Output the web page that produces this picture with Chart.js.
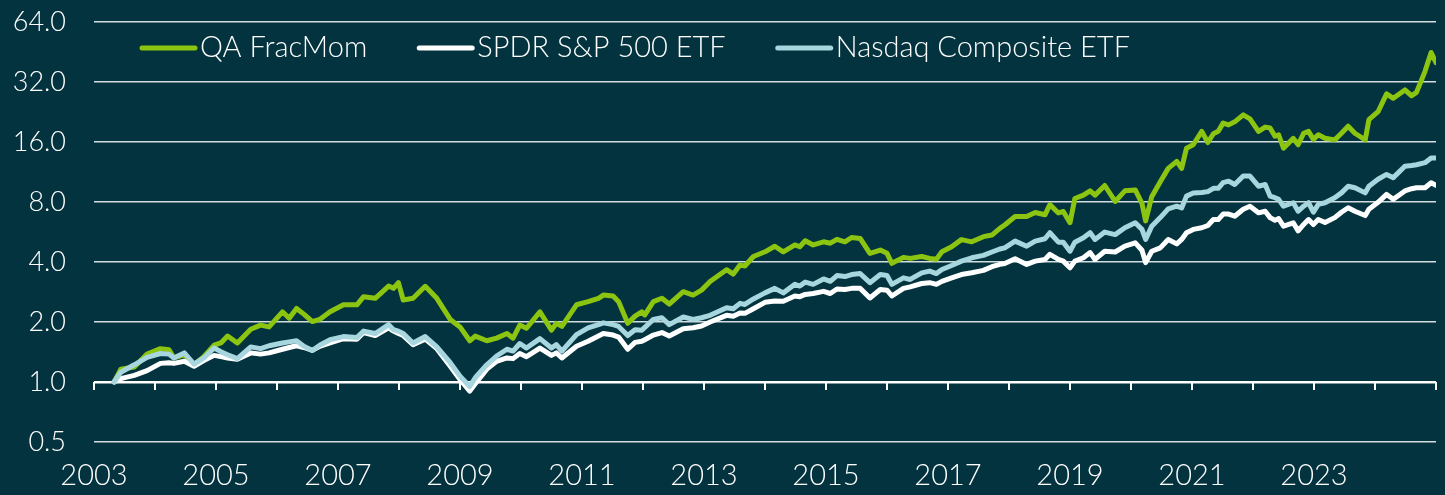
<!DOCTYPE html>
<html lang="en">
<head>
    <meta charset="UTF-8">
    <title>QA FracMom vs ETFs</title>
    <script src="https://cdn.jsdelivr.net/npm/chart.js"></script>
    <style>
        body { margin: 0; background: #03333e; }
        #wrap { width: 1445px; height: 495px; position: relative; }
    </style>
</head>
<body>
<div id="wrap"><canvas id="growthChart"></canvas></div>
<script>
    // dates as decimal years, values = growth of 1 (log scale)
    const dates = [
        2003.33, 2003.44, 2003.66, 2003.87, 2004.09, 2004.23, 2004.31, 2004.48, 2004.64, 2004.80,
        2004.97, 2005.08, 2005.19, 2005.35, 2005.57, 2005.73, 2005.87, 2006.09, 2006.20, 2006.32,
        2006.44, 2006.58, 2006.70, 2006.87, 2007.09, 2007.31, 2007.42, 2007.61, 2007.83, 2007.91,
        2007.99, 2008.07, 2008.23, 2008.43, 2008.62, 2008.84, 2009.00, 2009.16, 2009.25, 2009.44,
        2009.60, 2009.77, 2009.87, 2009.98, 2010.09, 2010.31, 2010.50, 2010.58, 2010.67, 2010.91,
        2011.10, 2011.27, 2011.35, 2011.51, 2011.60, 2011.75, 2011.87, 2011.98, 2012.03, 2012.17,
        2012.31, 2012.43, 2012.66, 2012.82, 2012.96, 2013.10, 2013.37, 2013.48, 2013.59, 2013.67,
        2013.81, 2014.00, 2014.16, 2014.30, 2014.49, 2014.57, 2014.66, 2014.79, 2014.96, 2015.07,
        2015.18, 2015.31, 2015.42, 2015.56, 2015.72, 2015.89, 2016.00, 2016.08, 2016.27, 2016.38,
        2016.57, 2016.70, 2016.81, 2016.90, 2017.06, 2017.22, 2017.39, 2017.58, 2017.72, 2017.85,
        2017.93, 2018.10, 2018.29, 2018.43, 2018.59, 2018.67, 2018.81, 2018.89, 2019.00, 2019.08,
        2019.22, 2019.33, 2019.41, 2019.57, 2019.74, 2019.90, 2020.07, 2020.18, 2020.24, 2020.34,
        2020.48, 2020.61, 2020.75, 2020.83, 2020.91, 2021.02, 2021.16, 2021.26, 2021.35, 2021.43,
        2021.51, 2021.60, 2021.70, 2021.84, 2021.95, 2022.09, 2022.20, 2022.28, 2022.36, 2022.42,
        2022.50, 2022.66, 2022.74, 2022.83, 2022.91, 2022.99, 2023.07, 2023.18, 2023.34, 2023.45,
        2023.56, 2023.67, 2023.84, 2023.90, 2024.05, 2024.19, 2024.30, 2024.49, 2024.60, 2024.68,
        2024.82, 2024.92, 2025.00
    ];

    const qaFracMom = [
        1.00, 1.16, 1.19, 1.38, 1.47, 1.45, 1.32, 1.37, 1.22, 1.34,
        1.53, 1.57, 1.70, 1.57, 1.84, 1.93, 1.89, 2.25, 2.09, 2.34,
        2.19, 2.01, 2.06, 2.25, 2.44, 2.44, 2.68, 2.63, 3.03, 2.95,
        3.15, 2.58, 2.63, 3.02, 2.63, 2.06, 1.89, 1.61, 1.70, 1.61,
        1.66, 1.75, 1.66, 1.93, 1.86, 2.25, 1.82, 1.97, 1.90, 2.44,
        2.53, 2.63, 2.73, 2.70, 2.53, 1.97, 2.14, 2.25, 2.17, 2.53,
        2.63, 2.46, 2.84, 2.73, 2.89, 3.19, 3.66, 3.48, 3.86, 3.82,
        4.26, 4.50, 4.80, 4.50, 4.87, 4.77, 5.11, 4.87, 5.05, 4.97,
        5.20, 5.05, 5.31, 5.25, 4.42, 4.59, 4.42, 3.94, 4.22, 4.17,
        4.26, 4.17, 4.13, 4.50, 4.77, 5.18, 5.05, 5.36, 5.46, 5.90,
        6.13, 6.77, 6.77, 7.09, 6.90, 7.76, 7.05, 7.17, 6.30, 8.33,
        8.66, 9.10, 8.66, 9.68, 8.05, 9.10, 9.20, 7.87, 6.43, 8.50,
        10.1, 11.8, 12.8, 11.8, 14.9, 15.5, 18.1, 15.9, 17.6, 18.1,
        19.9, 19.5, 20.2, 21.9, 20.9, 18.1, 19.0, 18.8, 17.1, 17.4,
        14.9, 16.7, 15.5, 17.7, 18.1, 16.5, 17.4, 16.7, 16.4, 17.7,
        19.2, 17.7, 16.4, 20.7, 22.7, 27.9, 26.5, 29.2, 27.3, 28.4,
        36.2, 45.0, 40.0
    ];

    const spdrSp500 = [
        1.00, 1.04, 1.08, 1.14, 1.24, 1.25, 1.24, 1.27, 1.20, 1.28,
        1.36, 1.34, 1.32, 1.30, 1.40, 1.38, 1.40, 1.46, 1.49, 1.52,
        1.49, 1.44, 1.51, 1.57, 1.65, 1.64, 1.77, 1.71, 1.87, 1.80,
        1.75, 1.71, 1.54, 1.64, 1.47, 1.20, 1.03, 0.90, 0.98, 1.16,
        1.27, 1.32, 1.31, 1.39, 1.34, 1.48, 1.36, 1.40, 1.32, 1.51,
        1.60, 1.70, 1.75, 1.72, 1.68, 1.46, 1.58, 1.60, 1.63, 1.72,
        1.77, 1.70, 1.85, 1.87, 1.91, 2.00, 2.16, 2.14, 2.22, 2.21,
        2.33, 2.51, 2.55, 2.54, 2.70, 2.68, 2.75, 2.78, 2.85, 2.78,
        2.93, 2.91, 2.95, 2.95, 2.64, 2.91, 2.89, 2.70, 2.95, 3.00,
        3.12, 3.15, 3.09, 3.20, 3.33, 3.46, 3.53, 3.63, 3.79, 3.89,
        3.93, 4.15, 3.89, 4.04, 4.12, 4.37, 4.12, 4.04, 3.74, 4.04,
        4.20, 4.46, 4.12, 4.53, 4.49, 4.80, 4.99, 4.58, 3.97, 4.53,
        4.71, 5.19, 4.93, 5.19, 5.61, 5.83, 5.94, 6.10, 6.53, 6.53,
        6.96, 6.96, 6.79, 7.36, 7.62, 7.06, 7.19, 6.68, 6.48, 6.60,
        6.05, 6.29, 5.73, 6.17, 6.53, 6.17, 6.53, 6.31, 6.68, 7.11,
        7.49, 7.19, 6.84, 7.36, 7.97, 8.73, 8.25, 9.09, 9.33, 9.43,
        9.43, 9.99, 9.70
    ];

    const nasdaqComposite = [
        1.00, 1.12, 1.22, 1.33, 1.39, 1.38, 1.32, 1.40, 1.23, 1.32,
        1.48, 1.42, 1.37, 1.31, 1.50, 1.47, 1.52, 1.57, 1.59, 1.61,
        1.51, 1.44, 1.53, 1.63, 1.69, 1.67, 1.80, 1.75, 1.94, 1.83,
        1.80, 1.75, 1.57, 1.69, 1.50, 1.25, 1.07, 0.95, 1.05, 1.22,
        1.35, 1.46, 1.43, 1.56, 1.48, 1.65, 1.48, 1.54, 1.43, 1.73,
        1.87, 1.94, 1.98, 1.94, 1.90, 1.71, 1.83, 1.82, 1.88, 2.06,
        2.10, 1.94, 2.12, 2.06, 2.10, 2.16, 2.36, 2.33, 2.48, 2.45,
        2.61, 2.80, 2.95, 2.80, 3.09, 3.03, 3.17, 3.09, 3.29, 3.20,
        3.42, 3.38, 3.46, 3.50, 3.15, 3.46, 3.42, 3.09, 3.33, 3.27,
        3.53, 3.60, 3.50, 3.67, 3.84, 4.04, 4.20, 4.32, 4.49, 4.65,
        4.71, 5.09, 4.80, 5.09, 5.23, 5.61, 5.03, 5.03, 4.53, 5.03,
        5.29, 5.61, 5.19, 5.65, 5.49, 5.94, 6.29, 5.83, 5.19, 6.05,
        6.68, 7.39, 7.62, 7.47, 8.56, 8.87, 8.92, 9.02, 9.37, 9.37,
        10.0, 10.18, 9.79, 10.8, 10.8, 9.60, 9.79, 8.56, 8.41, 8.25,
        7.62, 7.93, 7.19, 7.62, 7.93, 7.11, 7.78, 7.93, 8.41, 8.89,
        9.60, 9.43, 8.89, 9.60, 10.4, 11.0, 10.6, 12.1, 12.2, 12.3,
        12.6, 13.3, 13.3
    ];

    const seriesNames = ['QA FracMom', 'SPDR S&P 500 ETF', 'Nasdaq Composite ETF'];
    const yTicks = [0.5, 1, 2, 4, 8, 16, 32, 64];
    const yearLabels = ['2003', '2005', '2007', '2009', '2011', '2013', '2015', '2017', '2019', '2021', '2023'];

    const colors = ['#8cc511', '#ffffff', '#a7d6df'];
    const fontFamily = 'Lato, "Open Sans", sans-serif';

    function toPoints(values) {
        return values.map((v, i) => ({ x: dates[i], y: v }));
    }

    // short tick marks hanging off the 1.0 line
    const yearTicks = {
        id: 'yearTicks',
        afterDatasetsDraw(chart) {
            const xs = chart.scales.x, ys = chart.scales.y;
            const y1 = ys.getPixelForValue(1);
            const ctx = chart.ctx;
            ctx.save();
            ctx.strokeStyle = '#ffffff';
            ctx.lineWidth = 2;
            xs.ticks.forEach(t => {
                const x = Math.round(xs.getPixelForValue(t.value));
                ctx.beginPath();
                ctx.moveTo(x, y1);
                ctx.lineTo(x, y1 + 8);
                ctx.stroke();
            });
            ctx.restore();
        }
    };

    // legend sits inside the plot, between the 64 and 32 lines
    const innerLegend = {
        id: 'innerLegend',
        afterDraw(chart) {
            const ctx = chart.ctx;
            const area = chart.chartArea;
            let x = area.left + 46;
            const y = area.top + 26;
            ctx.save();
            ctx.font = '300 29px ' + fontFamily;
            ctx.textBaseline = 'middle';
            chart.data.datasets.forEach(ds => {
                ctx.strokeStyle = ds.borderColor;
                ctx.lineWidth = 5;
                ctx.lineCap = 'round';
                ctx.beginPath();
                ctx.moveTo(x + 2, y);
                ctx.lineTo(x + 55, y);
                ctx.stroke();
                ctx.fillStyle = '#ffffff';
                ctx.fillText(ds.label, x + 60, y);
                x += 60 + ctx.measureText(ds.label).width + 50;
            });
            ctx.restore();
        }
    };

    const ctx = document.getElementById('growthChart').getContext('2d');

    new Chart(ctx, {
        type: 'line',
        data: {
            datasets: [
                { label: seriesNames[0], data: toPoints(qaFracMom), borderColor: colors[0], order: 3 },
                { label: seriesNames[1], data: toPoints(spdrSp500), borderColor: colors[1], order: 2 },
                { label: seriesNames[2], data: toPoints(nasdaqComposite), borderColor: colors[2], order: 1 }
            ]
        },
        options: {
            responsive: true,
            maintainAspectRatio: false,
            animation: false,
            layout: { padding: { top: 22, right: 9, left: 0, bottom: 0 } },
            elements: {
                point: { radius: 0 },
                line: { borderWidth: 5, tension: 0, borderJoinStyle: 'round', borderCapStyle: 'round' }
            },
            plugins: {
                legend: { display: false },
                tooltip: { enabled: false }
            },
            scales: {
                x: {
                    type: 'linear',
                    min: 2003,
                    max: 2025,
                    grid: { display: false, drawTicks: false },
                    border: { display: false },
                    afterFit(scale) {
                        scale.height = 53;
                        scale.paddingLeft = 0;
                        scale.paddingRight = 0;
                    },
                    ticks: {
                        stepSize: 1,
                        autoSkip: false,
                        maxRotation: 0,
                        padding: 16,
                        color: '#ffffff',
                        font: { family: fontFamily, size: 29, weight: '300' },
                        callback: v => yearLabels.includes(String(Math.round(v))) ? String(Math.round(v)) : ''
                    }
                },
                y: {
                    type: 'logarithmic',
                    min: 0.5,
                    max: 64,
                    afterBuildTicks(scale) { scale.ticks = yTicks.map(v => ({ value: v })); },
                    afterFit(scale) {
                        scale.width = 94;
                        scale.paddingTop = 15;
                        scale.paddingBottom = 15;
                    },
                    border: { display: false },
                    grid: {
                        drawTicks: false,
                        color: c => c.tick && c.tick.value === 1 ? '#ffffff' : 'rgba(235,240,242,0.9)',
                        lineWidth: c => c.tick && c.tick.value === 1 ? 2.5 : 1.5
                    },
                    ticks: {
                        padding: 28,
                        color: '#ffffff',
                        font: { family: fontFamily, size: 27, weight: '300' },
                        callback: v => Number(v).toFixed(1)
                    }
                }
            }
        },
        plugins: [yearTicks, innerLegend]
    });
</script>
</body>
</html>
